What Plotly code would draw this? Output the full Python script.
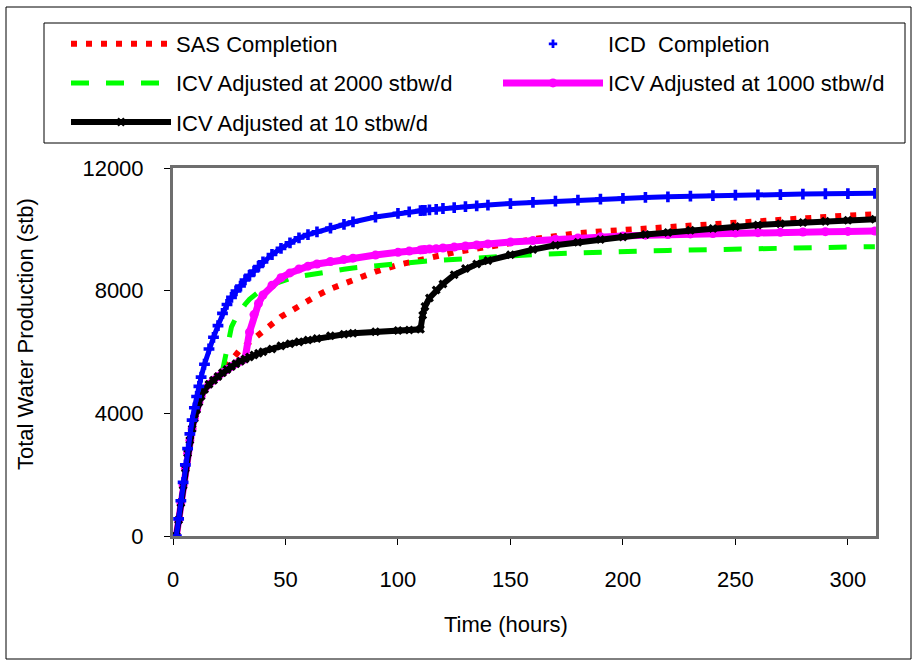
import plotly.graph_objects as go

# ---------------- data ----------------
time_h = [1.5, 2.5, 3.5, 4.5, 5.5, 6.5, 7.5, 8.5, 9.5, 10.5, 11.5, 12.5,
          14, 16, 18, 20, 22, 24, 26, 28, 30, 32, 34, 36, 38, 40,
          44, 48, 52, 56, 60, 64, 70, 76, 80, 90, 100, 105, 110,
          111, 112, 114, 117, 120, 125, 130, 135, 140,
          150, 160, 170, 180, 190, 200, 210, 220, 230, 240, 250, 260,
          270, 280, 290, 300, 312]

sas = [0, 520, 1080, 1650, 2200, 2700, 3120, 3500, 3830, 4120, 4360, 4560,
       4780, 4950, 5080, 5200, 5370, 5560, 5770, 5950, 6090, 6200, 6320, 6470, 6600, 6730,
       6960, 7150, 7320, 7500, 7690, 7840, 8060, 8230, 8340, 8620, 8840, 8930, 9020,
       9035, 9050, 9095, 9145, 9190, 9250, 9310, 9358, 9420,
       9550, 9680, 9800, 9875, 9930, 9980, 10010, 10070, 10130, 10190, 10235, 10275,
       10310, 10365, 10415, 10450, 10490]

icd = [0, 560, 1150, 1750, 2320, 2850, 3330, 3780, 4180, 4550, 4880, 5180,
       5600, 6100, 6480, 6860, 7260, 7550, 7780, 7990, 8150, 8350, 8500, 8640, 8790, 8940,
       9180, 9380, 9560, 9720, 9830, 9920, 10040, 10160, 10240, 10400, 10520, 10570, 10610,
       10615, 10620, 10635, 10650, 10680, 10710, 10740, 10765, 10790,
       10840, 10880, 10920, 10955, 10985, 11010, 11040, 11060, 11080, 11100, 11115, 11125,
       11135, 11150, 11160, 11165, 11175]

icv2000 = [0, 520, 1080, 1650, 2200, 2700, 3120, 3500, 3830, 4120, 4360, 4560,
           4780, 4950, 5080, 5200, 5380, 6100, 6820, 7120, 7360, 7550, 7720, 7850, 7970, 8070,
           8200, 8310, 8390, 8460, 8515, 8565, 8640, 8700, 8740, 8820, 8890, 8920, 8950,
           8955, 8960, 8970, 8985, 9000, 9025, 9045, 9065, 9090,
           9130, 9175, 9205, 9235, 9260, 9280, 9298, 9312, 9330, 9345, 9360, 9372,
           9385, 9400, 9412, 9423, 9435]

icv1000 = [0, 520, 1080, 1650, 2200, 2700, 3120, 3500, 3830, 4120, 4360, 4560,
           4780, 4950, 5080, 5200, 5320, 5430, 5530, 5620, 5700, 5770, 6650, 7220, 7580, 7860,
           8180, 8420, 8580, 8710, 8800, 8870, 8950, 9020, 9060, 9160, 9250, 9290, 9330,
           9335, 9340, 9355, 9370, 9390, 9420, 9455, 9490, 9525,
           9585, 9635, 9680, 9720, 9755, 9785, 9810, 9830, 9850, 9865, 9880, 9892,
           9903, 9913, 9923, 9932, 9945]

icv10 = [0, 520, 1080, 1650, 2200, 2700, 3120, 3500, 3830, 4120, 4360, 4560,
         4780, 4950, 5080, 5200, 5320, 5430, 5530, 5620, 5700, 5770, 5840, 5900, 5960, 6010,
         6100, 6200, 6270, 6330, 6390, 6440, 6530, 6580, 6610, 6660, 6700, 6720, 6740,
         7200, 7480, 7760, 8020, 8220, 8520, 8720, 8870, 8980,
         9170, 9340, 9480, 9580, 9670, 9750, 9830, 9900, 9970, 10030, 10090, 10140,
         10185, 10225, 10260, 10295, 10330]

x_ticks = [0, 50, 100, 150, 200, 250, 300]
y_ticks = [0, 4000, 8000, 12000]

names = {
    "sas": "SAS Completion",
    "icd": "ICD\u00a0 Completion",
    "icv2000": "ICV Adjusted at 2000 stbw/d",
    "icv1000": "ICV Adjusted at 1000 stbw/d",
    "icv10": "ICV Adjusted at 10 stbw/d",
}

FONT = "Liberation Sans, Arial, sans-serif"
FS = 22

# ---------------- figure ----------------
W, H = 917, 664
ML, MR, MT, MB = 173, 41, 168, 128
PW, PH = W - ML - MR, H - MT - MB


def px_x(p):
    return (p - ML) / PW


def px_y(p):
    return (H - MB - p) / PH


fig = go.Figure()

fig.add_trace(go.Scatter(
    x=time_h, y=sas, mode="lines", name=names["sas"],
    line=dict(color="#FF0000", width=6, dash="6px,9px"),
    legend="legend", legendgroup="g1", legendrank=1))

fig.add_trace(go.Scatter(
    x=time_h, y=icv2000, mode="lines", name=names["icv2000"],
    line=dict(color="#00FF00", width=5, dash="18px,17px"),
    legend="legend", legendgroup="g2", legendrank=2))

fig.add_trace(go.Scatter(
    x=time_h, y=icv1000, mode="lines+markers", name=names["icv1000"],
    line=dict(color="#FF00FF", width=7),
    marker=dict(symbol="circle", size=9, color="#FF00FF"),
    legend="legend2", legendgroup="g4", legendrank=4))

fig.add_trace(go.Scatter(
    x=time_h, y=icv10, mode="lines+markers", name=names["icv10"],
    line=dict(color="#000000", width=6),
    marker=dict(symbol="x", size=8, color="#000000"),
    legend="legend", legendgroup="g3", legendrank=3))

fig.add_trace(go.Scatter(
    x=time_h, y=icd, mode="lines+markers", name=names["icd"],
    line=dict(color="#0000FF", width=5),
    marker=dict(symbol="cross", size=9, color="#0000FF"),
    showlegend=False))

# legend entry for the ICD series (markers only, as in the reference legend)
fig.add_trace(go.Scatter(
    x=[None], y=[None], mode="markers", name=names["icd"],
    marker=dict(symbol="cross", size=7, color="#0000FF"),
    legend="legend2", legendgroup="g0", legendrank=0))

legend_common = dict(
    xanchor="left", yanchor="top", bgcolor="rgba(0,0,0,0)", borderwidth=0,
    font=dict(size=FS, family=FONT, color="#000000"),
    itemwidth=100, tracegroupgap=7.5, orientation="v", traceorder="grouped",
)

fig.update_layout(
    width=W, height=H,
    margin=dict(l=ML, r=MR, t=MT, b=MB, pad=0),
    paper_bgcolor="white", plot_bgcolor="white",
    font=dict(family=FONT, size=FS, color="#000000"),
    showlegend=True,
    legend=dict(x=px_x(66), y=px_y(23), **legend_common),
    legend2=dict(x=px_x(498), y=px_y(23), **legend_common),
    xaxis=dict(
        range=[0, 312.5], tickvals=x_ticks, ticktext=[str(v) for v in x_ticks],
        showgrid=False, zeroline=False,
        showline=True, mirror=True, linecolor="#6E6E6E", linewidth=3,
        ticks="outside", ticklen=6, tickwidth=1, tickcolor="#000000",
        ticklabelstandoff=16,
        tickfont=dict(size=FS, family=FONT, color="#000000"),
    ),
    yaxis=dict(
        range=[0, 12000], tickvals=y_ticks, ticktext=[str(v) for v in y_ticks],
        showgrid=False, zeroline=False,
        showline=True, mirror=True, linecolor="#6E6E6E", linewidth=3,
        ticks="outside", ticklen=6, tickwidth=1, tickcolor="#000000",
        ticklabelstandoff=16,
        tickfont=dict(size=FS, family=FONT, color="#000000"),
    ),
    annotations=[
        dict(text="Total Water Production (stb)", textangle=-90,
             xref="paper", yref="paper", x=px_x(25), y=px_y(334),
             xanchor="center", yanchor="middle", showarrow=False,
             font=dict(size=FS, family=FONT, color="#000000")),
        dict(text="Time (hours)",
             xref="paper", yref="paper", x=px_x(506), y=px_y(624),
             xanchor="center", yanchor="middle", showarrow=False,
             font=dict(size=FS, family=FONT, color="#000000")),
    ],
    shapes=[
        # outer chart border
        dict(type="rect", xref="paper", yref="paper",
             x0=px_x(6), x1=px_x(911), y0=px_y(659), y1=px_y(7),
             line=dict(color="#000000", width=1), layer="above"),
        # legend box
        dict(type="rect", xref="paper", yref="paper",
             x0=px_x(44), x1=px_x(905), y0=px_y(143), y1=px_y(23),
             line=dict(color="#000000", width=1), layer="above"),
    ],
)

fig.write_html("out.html", config={"displayModeBar": False},
               post_script="document.body.style.margin='0';")
